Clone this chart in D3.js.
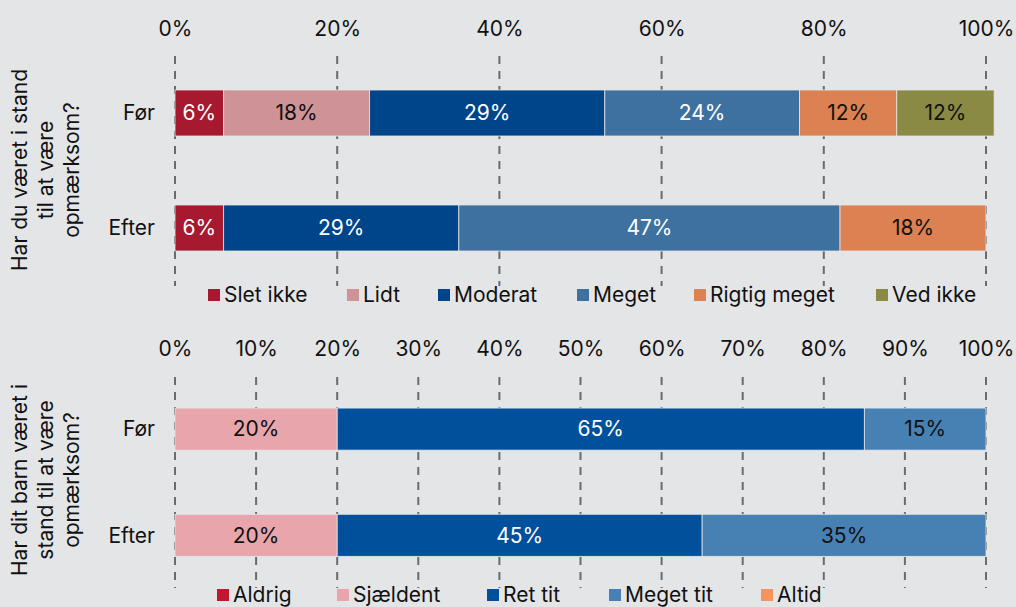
<!DOCTYPE html>
<html>
<head>
<meta charset="utf-8">
<script src="https://cdn.jsdelivr.net/npm/d3@7"></script>
<style>
  body { margin: 0; background: #e4e5e7; }
  text { font-family: Inter, "Noto Sans", sans-serif; }
</style>
</head>
<body>
<div id="chart"></div>
<script>
// ---- data ----
const rows = ["Før", "Efter"];

const topKeys = ["Slet ikke", "Lidt", "Moderat", "Meget", "Rigtig meget", "Ved ikke"];
const topColors = ["#a6192e", "#cf9297", "#00458a", "#3e71a0", "#dc8152", "#8a8a44"];
const topTextColors = ["#fff", "#111", "#fff", "#fff", "#111", "#111"];
const topFor = [6, 18, 29, 24, 12, 12];
const topEfter = [6, 0, 29, 47, 18, 0];
const topTicks = [0, 20, 40, 60, 80, 100];
const topTitle = ["Har du været i stand", "til at være", "opmærksom?"];

const botKeys = ["Aldrig", "Sjældent", "Ret tit", "Meget tit", "Altid"];
const botColors = ["#c0182f", "#e8a5ab", "#00509b", "#4780b3", "#f5955c"];
const botTextColors = ["#fff", "#111", "#fff", "#111", "#111"];
const botFor = [0, 20, 65, 15, 0];
const botEfter = [0, 20, 45, 35, 0];
const botTicks = [0, 10, 20, 30, 40, 50, 60, 70, 80, 90, 100];
const botTitle = ["Har dit barn været i", "stand til at være", "opmærksom?"];

const topLegendX = [208, 347, 438, 577, 694, 876];
const botLegendX = [217, 337, 487, 609, 761];

const svg = d3.select("#chart").append("svg")
    .attr("width", 1016)
    .attr("height", 607);

svg.append("rect").attr("width", 1016).attr("height", 607).attr("fill", "#e4e5e7");

const x = d3.scaleLinear().domain([0, 100]).range([175, 986]);
const FS = "21px";

function drawPanel(cfg) {
    const g = svg.append("g");

    // grid lines
    g.selectAll(".grid").data(cfg.ticks).enter().append("line")
        .attr("x1", d => x(d)).attr("x2", d => x(d))
        .attr("y1", cfg.gridTop).attr("y2", cfg.gridBottom)
        .attr("stroke", "#6b6b6b")
        .attr("stroke-width", 2)
        .attr("stroke-dasharray", "8,7");

    // top axis labels
    const axis = d3.axisTop(x).tickValues(cfg.ticks).tickFormat(d => d + "%").tickSize(0).tickPadding(0);
    const ag = g.append("g").attr("transform", `translate(0,${cfg.tickY})`).call(axis);
    ag.select(".domain").remove();
    ag.selectAll("text")
        .style("font-family", "Inter, 'Noto Sans', sans-serif")
        .style("font-size", FS)
        .attr("fill", "#111")
        .attr("dy", "0.35em");

    const y = d3.scaleBand().domain(rows).range(cfg.yRange).paddingInner(cfg.padIn).paddingOuter(cfg.padOut);

    const series = [cfg.forVals, cfg.efterVals];
    series.forEach((vals, ri) => {
        let acc = 0;
        const segs = vals.map((v, i) => {
            const s = { key: cfg.keys[i], i, x0: acc, x1: acc + v, v };
            acc += v;
            return s;
        }).filter(s => s.v > 0);

        const rowG = g.append("g");
        rowG.selectAll("rect").data(segs).enter().append("rect")
            .attr("x", d => x(d.x0))
            .attr("y", y(rows[ri]))
            .attr("width", d => x(d.x1) - x(d.x0))
            .attr("height", y.bandwidth())
            .attr("fill", d => cfg.colors[d.i])
            .attr("stroke", "#e4e5e7")
            .attr("stroke-width", 0.8);

        rowG.selectAll("text").data(segs).enter().append("text")
            .attr("x", d => (x(d.x0) + x(d.x1)) / 2)
            .attr("y", y(rows[ri]) + y.bandwidth() / 2)
            .attr("dy", "0.35em")
            .attr("text-anchor", "middle")
            .style("font-size", FS)
            .attr("fill", d => cfg.textColors[d.i])
            .text(d => d.v + "%");

        g.append("text")
            .attr("x", 155)
            .attr("y", y(rows[ri]) + y.bandwidth() / 2)
            .attr("dy", "0.35em")
            .attr("text-anchor", "end")
            .style("font-size", FS)
            .attr("fill", "#111")
            .text(rows[ri]);
    });

    // rotated y title
    const tg = g.append("text")
        .attr("transform", `translate(${cfg.titleX},${cfg.titleY}) rotate(-90)`)
        .attr("text-anchor", "middle")
        .style("font-size", FS)
        .attr("fill", "#111");
    cfg.title.forEach((line, i) => {
        tg.append("tspan")
            .attr("x", 0)
            .attr("y", (i - (cfg.title.length - 1) / 2) * 26)
            .attr("dy", "0.35em")
            .text(line);
    });

    // legend
    const lg = g.selectAll(".leg").data(cfg.keys).enter().append("g")
        .attr("transform", (d, i) => `translate(${cfg.legendX[i]},${cfg.legendY})`);
    lg.append("rect")
        .attr("x", 0).attr("y", -6)
        .attr("width", 12).attr("height", 12)
        .attr("fill", (d, i) => cfg.colors[i]);
    lg.append("text")
        .attr("x", 16).attr("y", 0).attr("dy", "0.35em")
        .style("font-size", FS)
        .attr("fill", "#111")
        .text(d => d);
}

drawPanel({
    keys: topKeys, colors: topColors, textColors: topTextColors,
    forVals: topFor, efterVals: topEfter, ticks: topTicks, title: topTitle,
    tickY: 29, gridTop: 56, gridBottom: 286,
    yRange: [55.5, 285.5], padIn: 0.6, padOut: 0.3,
    titleX: 46, titleY: 170,
    legendX: topLegendX, legendY: 295
});

drawPanel({
    keys: botKeys, colors: botColors, textColors: botTextColors,
    forVals: botFor, efterVals: botEfter, ticks: botTicks, title: botTitle,
    tickY: 349, gridTop: 377, gridBottom: 588,
    yRange: [376.2, 588.2], padIn: 0.604, padOut: 0.3,
    titleX: 46, titleY: 480,
    legendX: botLegendX, legendY: 595
});
</script>
</body>
</html>
